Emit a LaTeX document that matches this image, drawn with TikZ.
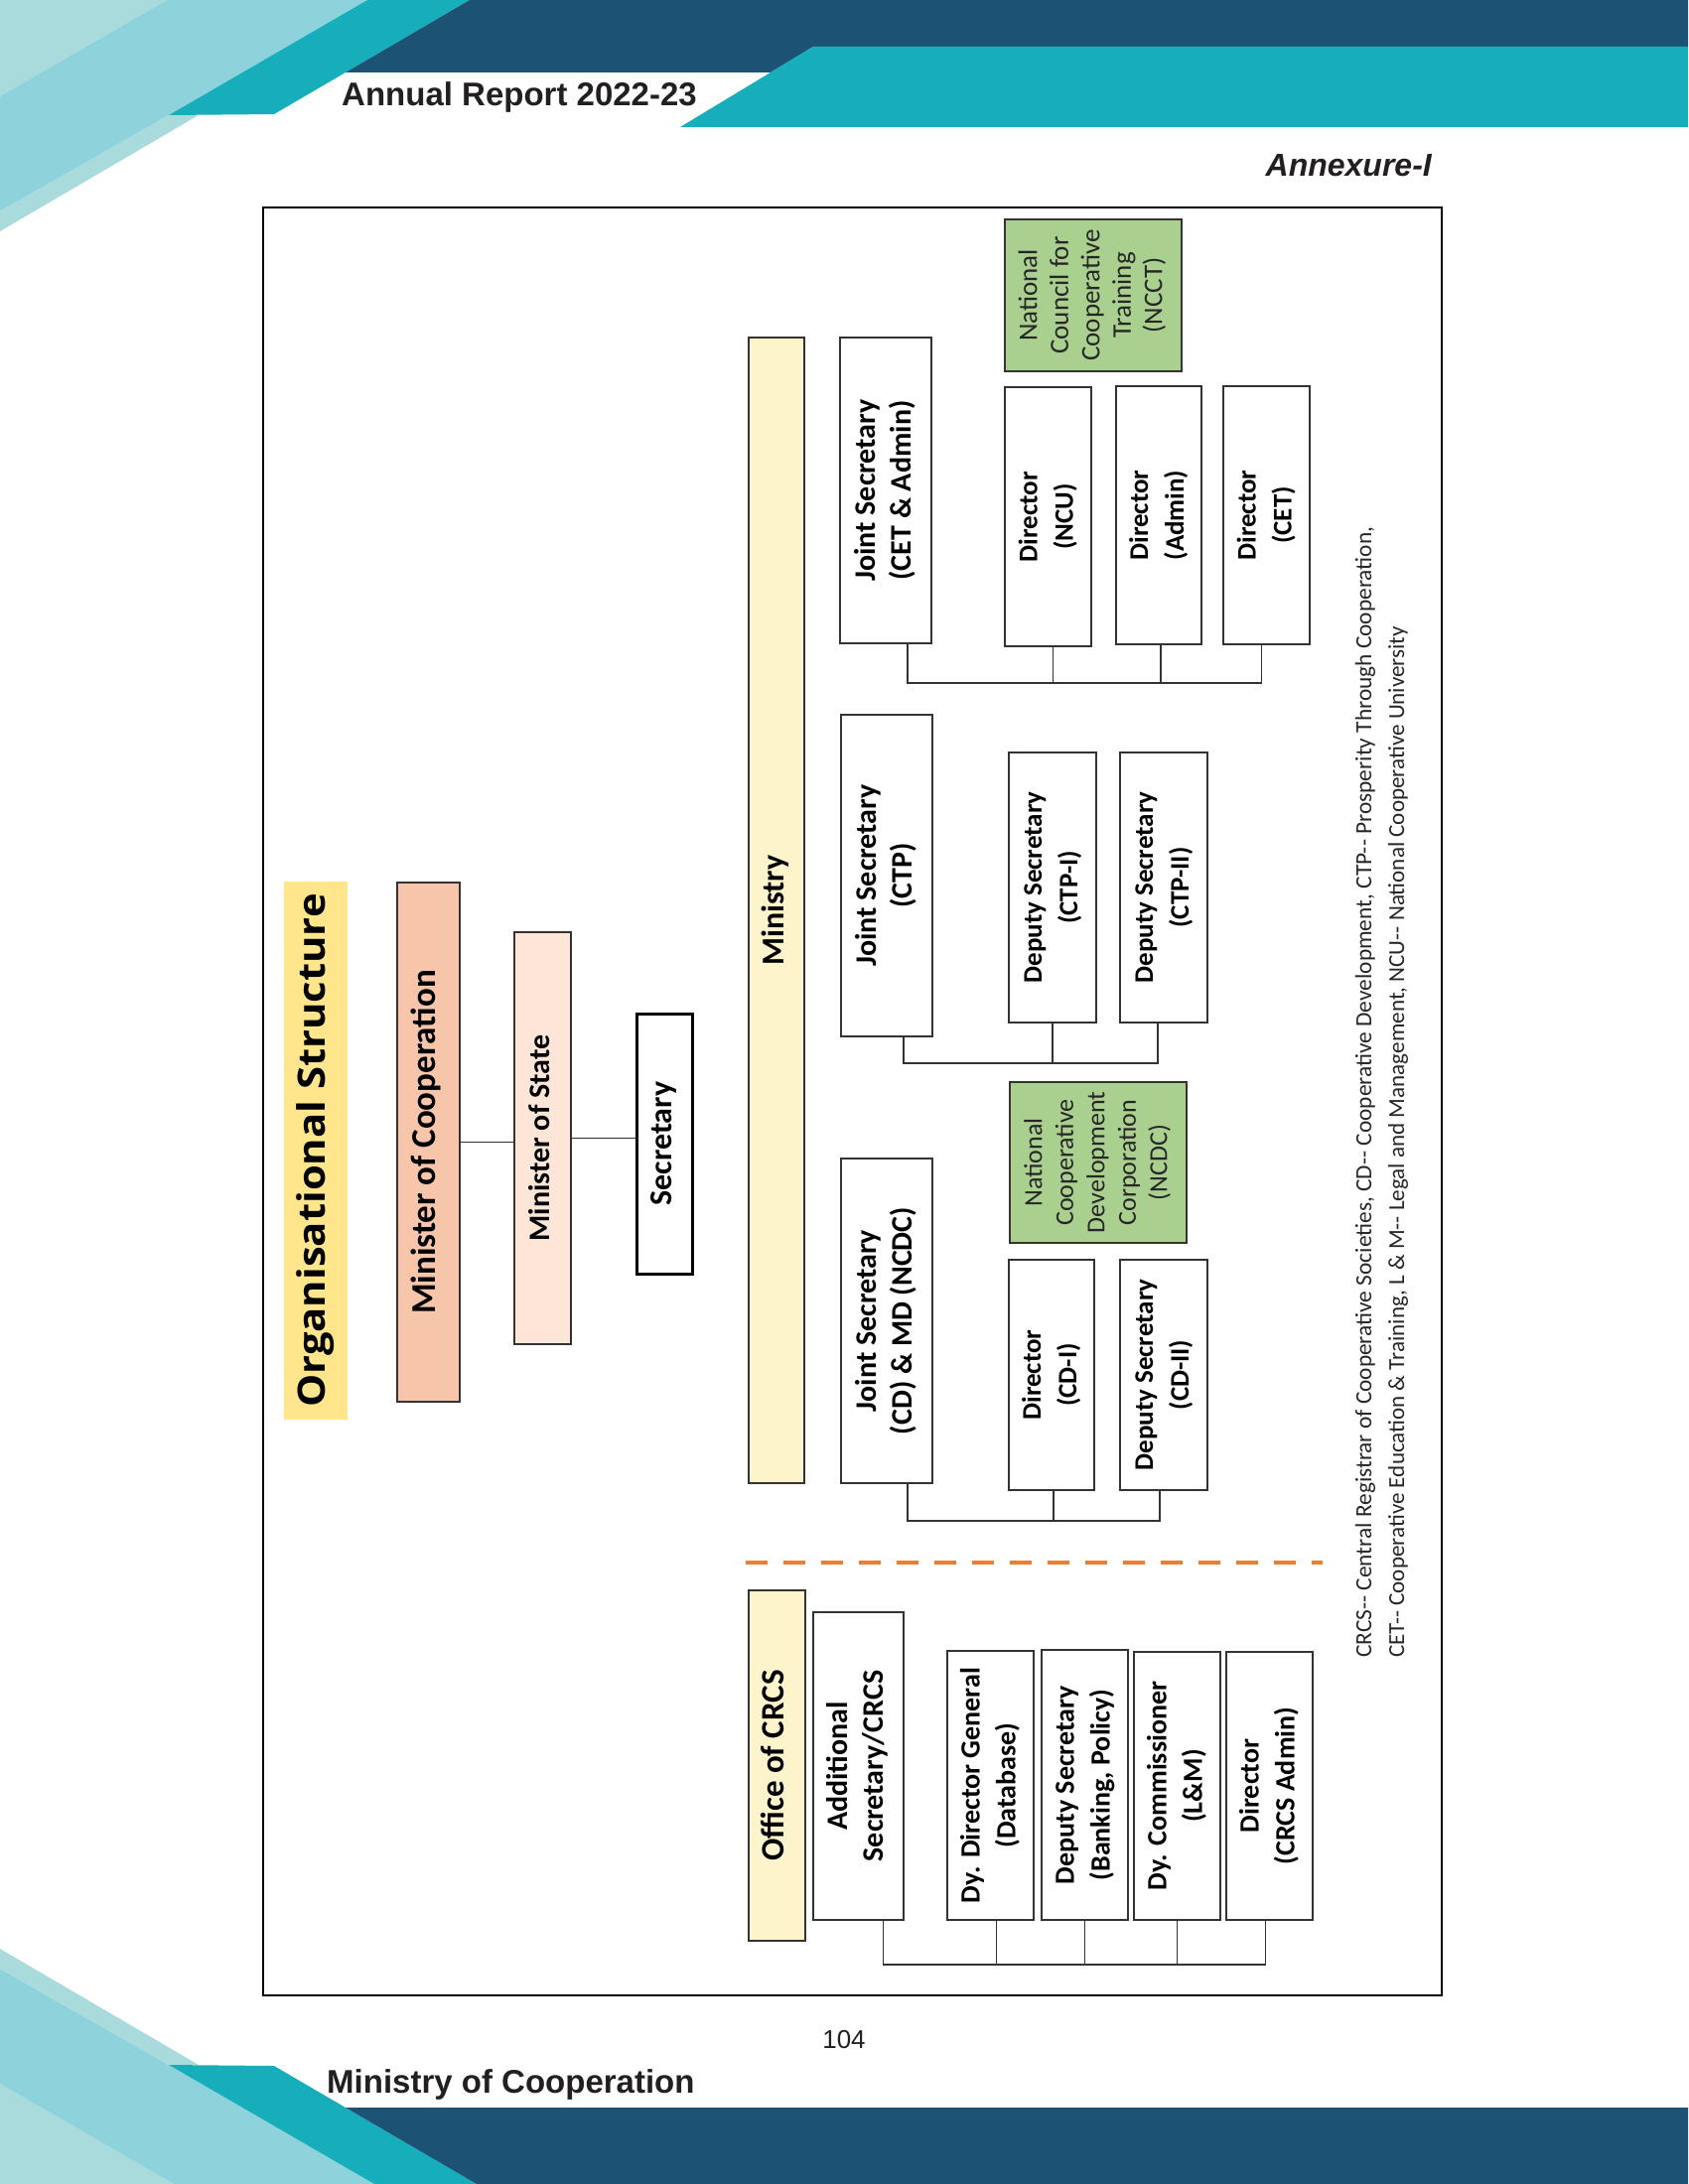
\documentclass[tikz,border=0pt]{standalone}
\usepackage{fontspec}
\usepackage{graphicx}
\setmainfont{Liberation Sans}
\newfontfamily\calfont{Carlito}
\newfontfamily\osfont{Open Sans}
\definecolor{navy}{RGB}{28,83,117}
\definecolor{tealc}{RGB}{22,174,187}
\definecolor{lblue}{RGB}{142,210,220}
\definecolor{palec}{RGB}{170,219,220}
\definecolor{boxline}{RGB}{55,50,50}
\definecolor{mocfill}{RGB}{246,197,170}
\definecolor{mosfill}{RGB}{253,229,216}
\definecolor{barfill}{RGB}{254,244,204}
\definecolor{titley}{RGB}{255,229,140}
\definecolor{greenfill}{RGB}{169,208,142}
\definecolor{dashor}{RGB}{240,125,45}
\definecolor{inkc}{RGB}{35,31,32}
\newcommand{\rt}[1]{\rotatebox{90}{\begin{tabular}{@{}c@{}}#1\end{tabular}}}
\tikzset{
  box/.style={draw=boxline, line width=1.8pt, fill=white, inner sep=0pt, text=black},
  bx/.style={font=\calfont\bfseries\fontsize{#1}{36}\selectfont},
  gx/.style={font=\calfont\fontsize{#1}{31.5}\selectfont},
  greenbox/.style={draw=boxline, line width=1.8pt, fill=greenfill, inner sep=0pt, text=black!85},
  barbox/.style={draw=boxline, line width=1.8pt, fill=barfill, inner sep=0pt, text=black},
  conn/.style={draw=boxline, line width=1.8pt},
}
\begin{document}
\begin{tikzpicture}[x=1pt,y=-1pt]
\useasboundingbox (0,0) rectangle (1700,2200);
% ---------- header ----------
\fill[palec] (0,0) -- (168,0) -- (0,97) -- cycle;
\fill[lblue] (168,0) -- (370,0) -- (170,116) -- (0,213) -- (0,97) -- cycle;
\fill[palec] (170,116) -- (200,116) -- (0,233) -- (0,213) -- cycle;
\fill[tealc] (370,0) -- (473,0) -- (276,115) -- (170,116) -- cycle;
\fill[navy] (473,0) -- (1700,0) -- (1700,47) -- (819,47) -- (776,73) -- (348,73) -- cycle;
\fill[tealc] (819,47) -- (1700,47) -- (1700,128) -- (685,128) -- cycle;
\node[anchor=base west, inner sep=0pt, text=inkc, font=\bfseries\fontsize{33}{36}\selectfont] (hdr) at (344,106) {Annual Report 2022-23};
\node[anchor=base east, inner sep=0pt, text=inkc, font=\bfseries\itshape\fontsize{32}{36}\selectfont] (annex) at (1442,177) {Annexure-I};
% ---------- footer ----------
\fill[palec] (0,2200) -- (175,2200) -- (0,2099) -- cycle;
\fill[lblue] (175,2200) -- (377,2200) -- (170,2080) -- (0,1983) -- (0,2099) -- cycle;
\fill[palec] (170,2080) -- (200,2080) -- (0,1963) -- (0,1983) -- cycle;
\fill[tealc] (377,2200) -- (480,2200) -- (276,2081) -- (170,2080) -- cycle;
\fill[navy] (348,2123) -- (1700,2123) -- (1700,2200) -- (480,2200) -- cycle;
\node[anchor=base, inner sep=0pt, text=inkc, font=\fontsize{26}{30}\selectfont] (pageno) at (850,2063) {104};
\node[anchor=base west, inner sep=0pt, text=inkc, font=\bfseries\fontsize{33}{36}\selectfont] (ftr) at (329,2108) {Ministry of Cooperation};
% ---------- frame ----------
\draw[line width=2.5pt, black] (265,209) rectangle (1452,2010);
% ---------- top of chart ----------
\node[fill=titley, minimum width=64pt, minimum height=542pt, inner sep=0pt] (title) at (318,1159)
  {\rotatebox{90}{\scalebox{1.1}[1]{\osfont\bfseries\fontsize{38}{40}\selectfont Organisational Structure}}};
\node[box, fill=mocfill, bx=35, minimum width=63pt, minimum height=523pt] (moc) at (431.5,1150.5) {\rt{Minister of Cooperation}};
\node[box, fill=mosfill, bx=30, minimum width=57pt, minimum height=415pt] (mos) at (546.5,1146.5) {\rt{Minister of State}};
\node[box, draw=black, line width=3pt, bx=32, minimum width=56pt, minimum height=262pt] (sec) at (669,1152) {\rt{Secretary}};
\draw[conn] (moc.east) -- (moc.east -| mos.west);
\draw[conn] (mos.east) -- (mos.east -| sec.west);
% ---------- bars ----------
\node[barbox, bx=32, minimum width=56pt, minimum height=1154pt] (ministry) at (782,917) {\rt{Ministry}};
\node[barbox, bx=33, minimum width=57pt, minimum height=353pt] (crcsbar) at (782.5,1778.5) {\rt{Office of CRCS}};
\draw[dashor, line width=3.5pt, dash pattern=on 22pt off 16pt] (751,1574) -- (1332,1574);
% ---------- CET & Admin group ----------
\node[box, bx=30, minimum width=92pt, minimum height=308pt] (jscet) at (892,494) {\rt{Joint Secretary\\(CET \& Admin)}};
\node[greenbox, gx=27, minimum width=178pt, minimum height=153pt] (ncct) at (1101,297.5) {\rt{National\\Council for\\Cooperative\\Training\\(NCCT)}};
\node[box, bx=27, minimum width=87pt, minimum height=261pt] (dncu) at (1055.5,520.5) {\rt{Director\\(NCU)}};
\node[box, bx=27, minimum width=86pt, minimum height=260pt] (dadmin) at (1167,519) {\rt{Director\\(Admin)}};
\node[box, bx=27, minimum width=87pt, minimum height=260pt] (dcet) at (1275.5,519) {\rt{Director\\(CET)}};
\coordinate (busCET) at (0,688);
\draw[conn] ([xshift=22pt]jscet.south) |- ([xshift=-5pt]dcet.south |- busCET) -- ([xshift=-5pt]dcet.south);
\draw[conn] ([xshift=5pt]dncu.south) -- ([xshift=5pt]dncu.south |- busCET);
\draw[conn] ([xshift=2pt]dadmin.south) -- ([xshift=2pt]dadmin.south |- busCET);
% ---------- CTP group ----------
\node[box, bx=30, minimum width=92pt, minimum height=324pt] (jsctp) at (893,882) {\rt{Joint Secretary\\(CTP)}};
\node[box, bx=27, minimum width=88pt, minimum height=272pt] (dsctp1) at (1060,894) {\rt{Deputy Secretary\\(CTP-I)}};
\node[box, bx=27, minimum width=88pt, minimum height=272pt] (dsctp2) at (1172,894) {\rt{Deputy Secretary\\(CTP-II)}};
\coordinate (busCTP) at (0,1071);
\draw[conn] ([xshift=17pt]jsctp.south) |- ([xshift=-6pt]dsctp2.south |- busCTP) -- ([xshift=-6pt]dsctp2.south);
\draw[conn] (dsctp1.south) -- (dsctp1.south |- busCTP);
% ---------- CD group ----------
\node[greenbox, gx=26, minimum width=178pt, minimum height=162pt] (ncdc) at (1106,1171) {\rt{National\\Cooperative\\Development\\Corporation\\(NCDC)}};
\node[box, bx=30, minimum width=92pt, minimum height=327pt] (jscd) at (893,1330.5) {\rt{Joint Secretary\\(CD) \& MD (NCDC)}};
\node[box, bx=27, minimum width=86pt, minimum height=232pt] (dcd1) at (1059,1385) {\rt{Director\\(CD-I)}};
\node[box, bx=27, minimum width=88pt, minimum height=232pt] (dscd2) at (1172,1385) {\rt{Deputy Secretary\\(CD-II)}};
\coordinate (busCD) at (0,1532);
\draw[conn] ([xshift=21pt]jscd.south) |- ([xshift=-4pt]dscd2.south |- busCD) -- ([xshift=-4pt]dscd2.south);
\draw[conn] ([xshift=2pt]dcd1.south) -- ([xshift=2pt]dcd1.south |- busCD);
% ---------- CRCS group ----------
\node[box, bx=30, minimum width=91pt, minimum height=310pt] (addsec) at (864.5,1779) {\rt{Additional\\Secretary/CRCS}};
\node[box, bx=28, minimum width=87pt, minimum height=271pt] (ddg) at (997.5,1798.5) {\rt{Dy. Director General\\(Database)}};
\node[box, bx=28, minimum width=87pt, minimum height=272pt] (dsbank) at (1092.5,1798) {\rt{Deputy Secretary\\(Banking, Policy)}};
\node[box, bx=28, minimum width=87pt, minimum height=270pt] (dycom) at (1185.5,1799) {\rt{Dy. Commissioner\\(L\&M)}};
\node[box, bx=28, minimum width=87pt, minimum height=270pt] (dircrcs) at (1278.5,1799) {\rt{Director\\(CRCS Admin)}};
\coordinate (busCR) at (0,1979);
\draw[conn] ([xshift=25pt]addsec.south) |- ([xshift=-4pt]dircrcs.south |- busCR) -- ([xshift=-4pt]dircrcs.south);
\draw[conn] ([xshift=6pt]ddg.south) -- ([xshift=6pt]ddg.south |- busCR);
\draw[conn] (dsbank.south) -- (dsbank.south |- busCR);
\draw[conn] (dycom.south) -- (dycom.south |- busCR);
% ---------- footnote ----------
\node[rotate=90, anchor=west, inner sep=0pt, text=black!85, font=\calfont\fontsize{22}{26}\selectfont] (fn1) at (1375,1670)
  {\resizebox{1139pt}{!}{CRCS-{}- Central Registrar of Cooperative Societies, CD-{}- Cooperative Development, CTP-{}- Prosperity Through Cooperation,}};
\node[rotate=90, anchor=west, inner sep=0pt, text=black!85, font=\calfont\fontsize{22}{26}\selectfont] (fn2) at (1408,1670)
  {\resizebox{1039pt}{!}{CET-{}- Cooperative Education \& Training, L \& M-{}- Legal and Management, NCU-{}- National Cooperative University}};
\end{tikzpicture}
\end{document}
